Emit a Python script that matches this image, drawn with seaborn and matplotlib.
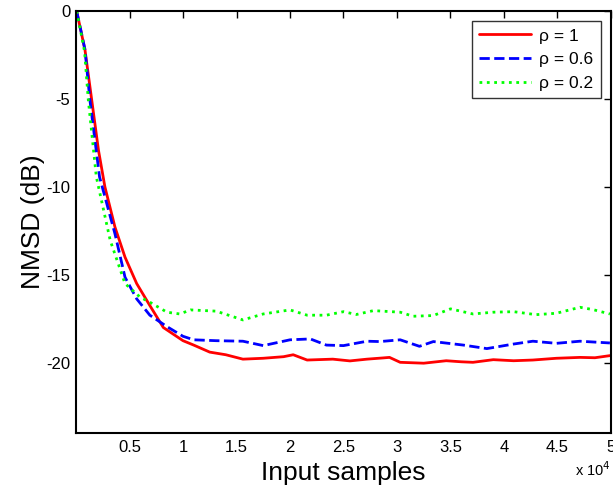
import matplotlib.pyplot as plt
import pandas as pd
import seaborn as sns

sns.set_style("white")
plt.rcParams.update({
    "font.family": ["Liberation Sans", "DejaVu Sans"],
    "xtick.direction": "in",
    "ytick.direction": "in",
    "axes.unicode_minus": False,
    "text.color": "black",
    "axes.labelcolor": "black",
    "xtick.color": "black",
    "ytick.color": "black",
})

# x in units of 1e4 samples
x_red = [0.006, 0.084, 0.147, 0.21, 0.27, 0.364, 0.458, 0.567, 0.69, 0.816, 1.0, 1.1, 1.25, 1.4,
         1.56, 1.75, 1.94, 2.03, 2.16, 2.4, 2.56, 2.72, 2.87, 2.93, 3.03, 3.25, 3.46, 3.6, 3.71,
         3.9, 4.09, 4.27, 4.49, 4.71, 4.85, 4.99]
y_red = [0.0, -2.22, -5.07, -7.92, -10.0, -12.29, -14.0, -15.5, -16.75, -18.0, -18.75, -19.0,
         -19.4, -19.55, -19.8, -19.75, -19.66, -19.55, -19.85, -19.8, -19.9, -19.8, -19.73, -19.7,
         -19.98, -20.03, -19.89, -19.95, -19.98, -19.83, -19.89, -19.85, -19.75, -19.7, -19.72, -19.6]

x_blue = [0.006, 0.084, 0.13, 0.22, 0.364, 0.458, 0.567, 0.69, 0.85, 1.0, 1.1, 1.31, 1.56, 1.75,
          2.0, 2.19, 2.34, 2.5, 2.72, 2.84, 3.03, 3.21, 3.34, 3.62, 3.84, 4.09, 4.27, 4.49, 4.71,
          4.99]
y_blue = [0.0, -2.2, -5.07, -9.44, -12.67, -15.14, -16.37, -17.3, -17.95, -18.5, -18.7, -18.75,
          -18.78, -19.03, -18.7, -18.65, -19.0, -19.03, -18.78, -18.8, -18.7, -19.07, -18.8, -19.0,
          -19.2, -18.94, -18.78, -18.9, -18.78, -18.88]

x_green = [0.006, 0.08, 0.115, 0.19, 0.32, 0.458, 0.6, 0.69, 0.85, 0.97, 1.07, 1.31, 1.56, 1.75,
           2.0, 2.16, 2.34, 2.5, 2.62, 2.78, 3.03, 3.15, 3.34, 3.5, 3.71, 3.9, 4.09, 4.3, 4.49,
           4.71, 4.83, 4.99]
y_green = [0.0, -2.3, -5.07, -9.44, -13.05, -15.5, -16.28, -16.56, -17.13, -17.23, -17.0, -17.07,
           -17.57, -17.23, -17.0, -17.3, -17.3, -17.1, -17.26, -17.04, -17.13, -17.36, -17.32,
           -16.94, -17.23, -17.13, -17.1, -17.27, -17.19, -16.85, -16.98, -17.23]

labels = ["\u03c1 = 1", "\u03c1 = 0.6", "\u03c1 = 0.2"]
xticks = [0.5, 1, 1.5, 2, 2.5, 3, 3.5, 4, 4.5, 5]
yticks = [0, -5, -10, -15, -20]

series = [
    (x_red, y_red, labels[0], "#ff0000", "-"),
    (x_blue, y_blue, labels[1], "#0000ff", "--"),
    (x_green, y_green, labels[2], "#00ff00", ":"),
]

fig = plt.figure(figsize=(6.13, 4.93), dpi=100)
ax = fig.add_axes([0.124, 0.1217, 0.8727, 0.856])

for xs, ys, lab, col, ls in series:
    df = pd.DataFrame({"x": xs, "y": ys})
    sns.lineplot(data=df, x="x", y="y", ax=ax, color=col, linestyle=ls, linewidth=2, label=lab)

ax.set_xlim(0, 5)
ax.set_ylim(-24, 0)
ax.set_xticks(xticks)
ax.set_xticklabels([f"{t:g}" for t in xticks])
ax.set_yticks(yticks)
ax.tick_params(axis="both", labelsize=12, length=5, width=1, top=True, right=True, pad=5)
ax.tick_params(axis="y", pad=4)
for s in ax.spines.values():
    s.set_linewidth(1.5)
    s.set_color("black")

ax.set_xlabel("Input samples", fontsize=19, labelpad=4)
ax.set_ylabel("NMSD (dB)", fontsize=19, labelpad=1)
ax.text(1.0, -0.064, "x 10$^4$", transform=ax.transAxes, ha="right", va="top", fontsize=10.5)

leg = ax.legend(loc="upper right", fontsize=12.5, frameon=True, fancybox=False,
                edgecolor="black", handlelength=3.0, handletextpad=0.5, borderaxespad=0.6)
leg.get_frame().set_linewidth(1)

plt.savefig("out.png", dpi=100)
